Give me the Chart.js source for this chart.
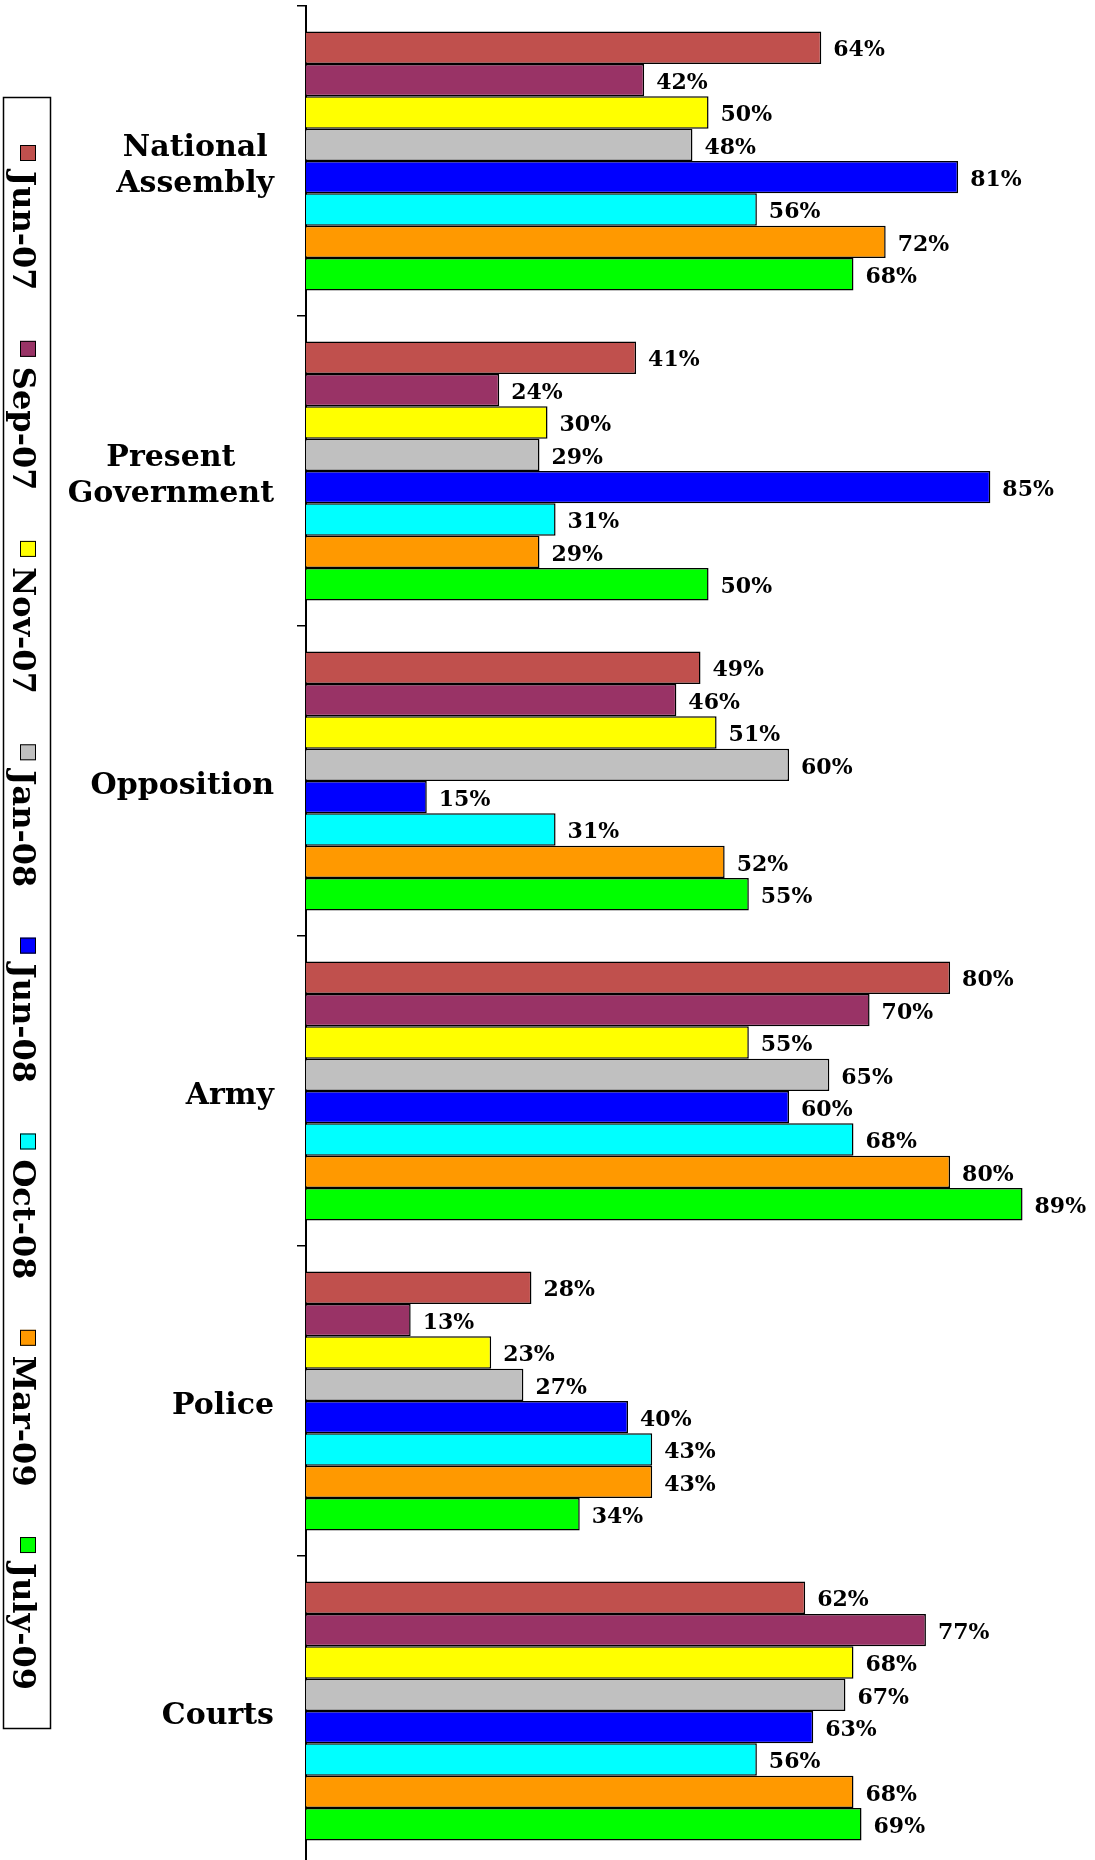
<!DOCTYPE html>
<html>
<head>
<meta charset="utf-8">
<title>Trust in institutions</title>
<script src="https://cdn.jsdelivr.net/npm/chart.js@4.4.1/dist/chart.umd.min.js"></script>
<style>
  html, body { margin: 0; padding: 0; background: #fff; overflow: hidden; }
  canvas { display: block; }
</style>
</head>
<body>
<canvas id="out" width="1095" height="1866"></canvas>
<script>
// institutions (y axis)
const categories = [["National", "Assembly"], ["Present", "Government"], "Opposition", "Army", "Police", "Courts"];
// survey waves
const surveys = ["Jun-07", "Sep-07", "Nov-07", "Jan-08", "Jun-08", "Oct-08", "Mar-09", "July-09"];
const colors = ["#C0504D", "#993366", "#FFFF00", "#C0C0C0", "#0000FF", "#00FFFF", "#FF9900", "#00FF00"];

// % per institution, one array per wave
const jun07 = [64, 41, 49, 80, 28, 62];
const sep07 = [42, 24, 46, 70, 13, 77];
const nov07 = [50, 30, 51, 55, 23, 68];
const jan08 = [48, 29, 60, 65, 27, 67];
const jun08 = [81, 85, 15, 60, 40, 63];
const oct08 = [56, 31, 31, 68, 43, 56];
const mar09 = [72, 29, 52, 80, 43, 68];
const jul09 = [68, 50, 55, 89, 34, 69];

const seriesValues = [jun07, sep07, nov07, jan08, jun08, oct08, mar09, jul09];

const serif = "'DejaVu Serif', 'Liberation Serif', serif";

// the "64%" labels at the end of each bar
const valueLabels = {
  id: "valueLabels",
  afterDatasetsDraw(chart) {
    const ctx = chart.ctx;
    ctx.save();
    ctx.font = "bold 22px " + serif;
    ctx.fillStyle = "#000";
    ctx.textAlign = "left";
    ctx.textBaseline = "middle";
    chart.data.datasets.forEach((ds, i) => {
      chart.getDatasetMeta(i).data.forEach((bar, j) => {
        ctx.fillText(ds.data[j] + "%", bar.x + 12, bar.y + 3);
      });
    });
    ctx.restore();
  }
};

// category names: each block right aligned, its lines centred on each other
const categoryLabels = {
  id: "categoryLabels",
  afterDraw(chart) {
    const ctx = chart.ctx;
    const yScale = chart.scales.y;
    const rightEdge = yScale.right - 32;
    const lineH = 36;
    ctx.save();
    ctx.font = "bold 30px " + serif;
    ctx.fillStyle = "#000";
    ctx.textAlign = "center";
    ctx.textBaseline = "middle";
    categories.forEach((cat, i) => {
      const lines = Array.isArray(cat) ? cat : [cat];
      const w = Math.max(...lines.map(l => ctx.measureText(l).width));
      const cx = rightEdge - w / 2;
      const cy = yScale.getPixelForValue(i) + 5;
      lines.forEach((l, k) => {
        ctx.fillText(l, cx, cy + (k - (lines.length - 1) / 2) * lineH);
      });
    });
    ctx.restore();
  }
};

// legend box on the left, text turned 90 degrees
const sideLegend = {
  id: "sideLegend",
  afterDraw(chart) {
    const ctx = chart.ctx;
    ctx.save();
    ctx.strokeStyle = "#000";
    ctx.lineWidth = 1.5;
    ctx.strokeRect(3.5, 97.5, 47, 1631);

    ctx.font = "bold 32px " + serif;
    const sq = 16, gapIn = 10;
    const widths = surveys.map(s => ctx.measureText(s).width);
    const total = widths.reduce((a, w) => a + sq + gapIn + w, 0);
    const startY = 145, endY = 1690;
    const gap = (endY - startY - total) / (surveys.length - 1);

    let y = startY;
    surveys.forEach((name, i) => {
      ctx.fillStyle = colors[i];
      ctx.fillRect(20, y, sq, sq);
      ctx.lineWidth = 1;
      ctx.strokeRect(20.5, y + 0.5, sq - 1, sq - 1);
      y += sq + gapIn;
      ctx.save();
      ctx.translate(13, y);
      ctx.rotate(Math.PI / 2);
      ctx.fillStyle = "#000";
      ctx.textAlign = "left";
      ctx.textBaseline = "alphabetic";
      ctx.fillText(name, 0, 0);
      ctx.restore();
      y += widths[i] + gap;
    });
    ctx.restore();
  }
};

const datasets = surveys.map((name, i) => ({
  label: name,
  data: seriesValues[i],
  backgroundColor: colors[i],
  borderColor: "#000",
  borderWidth: 1.5,
  categoryPercentage: 0.835,
  barPercentage: 1
}));

const canvasCtx = document.getElementById("out").getContext("2d");
new Chart(canvasCtx, {
  type: "bar",
  data: { labels: categories, datasets: datasets },
  options: {
    indexAxis: "y",
    responsive: false,
    animation: false,
    devicePixelRatio: 1,
    layout: { padding: { top: 6, left: 0, right: 0, bottom: 0 } },
    plugins: {
      legend: { display: false },
      tooltip: { enabled: false }
    },
    scales: {
      x: { display: false, min: 0, max: 98 },
      y: {
        offset: true,
        grid: { offset: true, drawOnChartArea: false, drawTicks: true, tickLength: 9, color: "#000", lineWidth: 1.5 },
        border: { color: "#000", width: 2 },
        ticks: { display: false },
        afterFit(scale) {
          scale.width = 306;
          scale.paddingTop = 0;
          scale.paddingBottom = 0;
        }
      }
    }
  },
  plugins: [valueLabels, categoryLabels, sideLegend]
});
</script>
</body>
</html>
